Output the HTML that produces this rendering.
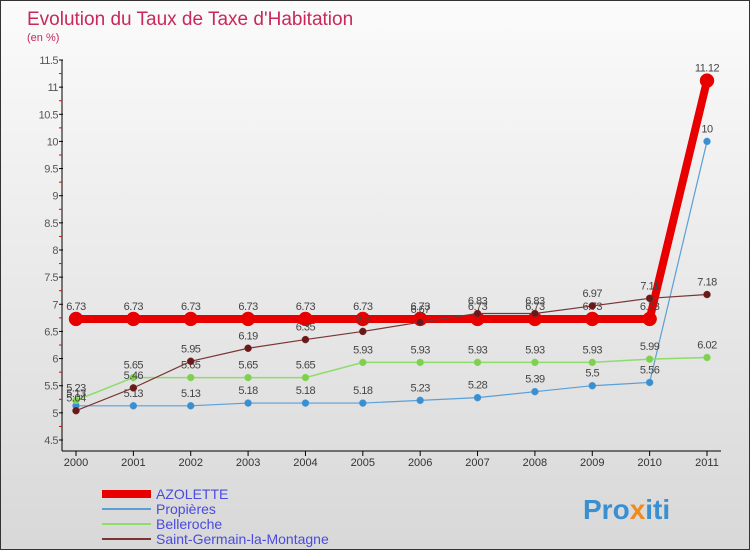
<!DOCTYPE html>
<html><head><meta charset="utf-8"><style>
body{margin:0}
#c{width:748px;height:548px;border:1px solid #333;background:linear-gradient(#fbfbfb,#d8d8d8);position:relative;font-family:"Liberation Sans",sans-serif;overflow:hidden}
</style></head><body>
<div id="c">
<svg id="s" width="748" height="548" xmlns="http://www.w3.org/2000/svg">
<text x="26" y="24" font-size="19" fill="#c8285a">Evolution du Taux de Taxe d'Habitation</text>
<text x="26" y="40" font-size="11" fill="#c8285a">(en %)</text>
<text x="582" y="518" font-size="28" font-weight="bold" fill="#3a8fd0">Pro<tspan fill="#f08a1c">x</tspan>iti</text>
</svg></div>
<script>
const years=[2000,2001,2002,2003,2004,2005,2006,2007,2008,2009,2010,2011];
const azolette=[6.73,6.73,6.73,6.73,6.73,6.73,6.73,6.73,6.73,6.73,6.73,11.12];
const propieres=[5.13,5.13,5.13,5.18,5.18,5.18,5.23,5.28,5.39,5.5,5.56,10];
const belleroche=[5.23,5.65,5.65,5.65,5.65,5.93,5.93,5.93,5.93,5.93,5.99,6.02];
const stgermain=[5.04,5.46,5.95,6.19,6.35,6.5,6.67,6.83,6.83,6.97,7.11,7.18];
const yTicks=[4.5,5,5.5,6,6.5,7,7.5,8,8.5,9,9.5,10,10.5,11,11.5];
const NS="http://www.w3.org/2000/svg",s=document.getElementById('s');
const X=i=>75+i*(631/11), Y=v=>439-(v-4.5)*(380/7);
function el(t,a){const e=document.createElementNS(NS,t);for(const k in a)e.setAttribute(k,a[k]);s.appendChild(e);return e;}
let ax=el('line',{x1:61,y1:59,x2:61,y2:450,stroke:'#000'});


let bx=el('line',{x1:61,y1:450,x2:720,y2:450,stroke:'#000'});


yTicks.forEach((v,i)=>{
 el('line',{x1:58,x2:62,y1:Y(v),y2:Y(v),stroke:'#000'});
 if(i<yTicks.length-1)el('line',{x1:58,x2:61,y1:Y(v+0.25),y2:Y(v+0.25),stroke:'#e00'});
 const t=el('text',{x:57,y:Y(v)+4,'font-size':11,'text-anchor':'end',fill:'#555','letter-spacing':'-0.5'});
 t.textContent=String(v);
 
 
});
years.forEach((y,i)=>{
 el('line',{x1:X(i),x2:X(i),y1:450,y2:455,stroke:'#000'});
 const t=el('text',{x:X(i),y:465,'font-size':11,'text-anchor':'middle',fill:'#333'});
 t.textContent=y;
 
 
});
function series(d,col,w,r,name,dot){
 const p=el('polyline',{points:d.map((v,i)=>X(i)+','+Y(v)).join(' '),fill:'none',stroke:col,'stroke-width':w});
 
 
 d.forEach((v,i)=>{
  const c=el('circle',{cx:X(i),cy:Y(v),r:r,fill:dot,stroke:col,'stroke-width':0.5});
  
  
  const t=el('text',{x:X(i),y:Y(v)-9,'font-size':11,'text-anchor':'middle',fill:'#444','letter-spacing':'-0.5'});
  t.textContent=String(v);
  
  
 });
}
series(azolette,'#e80000',8,7,'azolette','#e80000');
series(propieres,'#5b9fd6',1.2,3.5,'propieres','#3a8fd0');
series(belleroche,'#8edc6a',1.5,3.5,'belleroche','#7ed04e');
series(stgermain,'#7a3535',1.2,3.5,'saint-germain','#6a1818');
const leg=[['AZOLETTE','#e80000',8],['Propières','#5b9fd6',2],['Belleroche','#8edc6a',2],['Saint-Germain-la-Montagne','#7a3535',2]];
leg.forEach((l,i)=>{
 const y=493+i*15;
 const ln=el('line',{x1:101,x2:150,y1:y,y2:y,stroke:l[1],'stroke-width':l[2]});
 
 
 const t=el('text',{x:155,y:y+5,'font-size':14,fill:'#4a4ae0'});
 t.textContent=l[0];
 
 
});
</script>
</body></html>
